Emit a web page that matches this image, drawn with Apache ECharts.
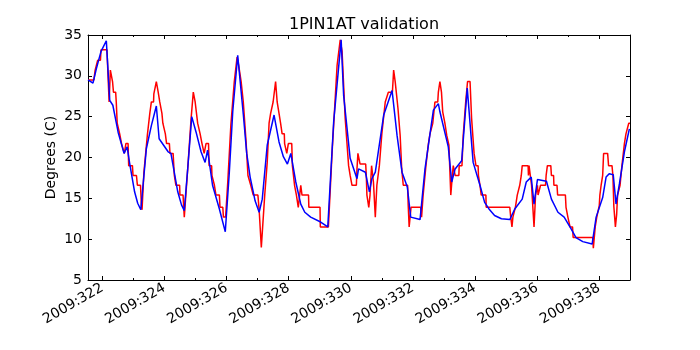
<!DOCTYPE html>
<html>
<head>
<meta charset="utf-8">
<script src="https://cdn.jsdelivr.net/npm/echarts@6/dist/echarts.min.js"></script>
<style>
  html, body { margin: 0; padding: 0; background: #fff; }
</style>
</head>
<body>
<div id="chart" style="width: 700px; height: 350px;"></div>
<script>
// day-of-year range shown on the x axis
const xMin = 321.54
const xMax = 338.99
const xTickDays = [322, 324, 326, 328, 330, 332, 334, 336, 338]
const xMinorDays = [323, 325, 327, 329, 331, 333, 335, 337]
const yTicks = [5, 10, 15, 20, 25, 30, 35]

// measured telemetry (red, quantized)
const telemetry = [
  [321.54,29.5],[321.73,29.5],[321.77,30.7],[321.83,30.7],[321.85,31.9],[321.94,31.9],[321.96,33.2],[322.15,33.2],[322.22,26.8],[322.26,30.7],[322.30,30.7],[322.33,29.3],[322.36,28.0],[322.43,28.0],[322.45,26.8],[322.48,24.2],[322.54,24.2],[322.56,22.9],[322.60,22.9],[322.62,21.7],[322.68,21.7],[322.71,20.5],[322.74,20.5],[322.76,21.7],[322.83,21.7],[322.85,19.0],[322.97,19.0],[322.99,17.8],[323.10,17.8],[323.13,16.6],[323.23,16.6],[323.26,14.1],[323.28,13.6],[323.34,18.2],[323.45,22.7],[323.53,25.4],[323.58,26.8],[323.65,26.8],[323.66,27.8],[323.71,28.0],[323.74,29.3],[323.77,29.3],[323.80,28.0],[323.85,26.8],[323.91,26.8],[323.92,25.4],[323.95,24.2],[324.01,24.2],[324.03,22.9],[324.05,22.9],[324.07,21.7],
  [324.16,21.7],[324.18,20.5],[324.28,20.5],[324.32,17.8],[324.36,17.8],[324.37,16.6],[324.49,16.6],[324.50,15.4],[324.60,15.4],[324.64,12.7],[324.66,12.7],[324.75,18.6],[324.86,24.8],[324.93,28.0],[324.97,28.0],[324.99,26.8],[325.05,26.8],[325.07,24.2],[325.13,24.2],[325.15,22.9],[325.19,22.9],[325.21,21.7],[325.26,21.7],[325.28,20.5],[325.32,20.5],[325.34,21.7],[325.42,21.7],[325.44,19.0],[325.52,19.0],[325.53,17.8],[325.59,17.8],[325.61,16.6],[325.64,16.6],[325.66,15.4],[325.77,15.4],[325.79,13.9],[325.88,13.9],[325.90,12.7],[325.97,12.7],[326.04,17.0],[326.14,24.0],[326.25,29.3],[326.34,32.3],[326.39,31.3],[326.47,29.3],[326.54,26.8],[326.63,21.9],
  [326.69,17.8],[326.78,16.6],[326.86,15.4],[327.01,15.4],[327.05,13.6],[327.12,9.0],[327.16,9.0],[327.23,15.4],[327.31,19.4],[327.37,24.2],[327.42,25.4],[327.48,25.4],[327.50,26.8],[327.56,26.8],[327.58,29.3],[327.61,29.3],[327.63,26.8],[327.67,26.8],[327.69,25.4],[327.73,25.4],[327.74,24.2],[327.78,24.2],[327.79,22.9],[327.86,22.9],[327.87,21.7],[327.92,21.7],[327.94,20.5],[327.97,20.5],[327.99,21.7],[328.10,21.7],[328.12,19.0],[328.19,16.6],[328.25,15.4],[328.30,15.4],[328.31,13.9],[328.37,13.9],[328.39,16.6],[328.41,16.6],[328.43,15.4],[328.64,15.4],[328.65,13.9],[329.01,13.9],[329.02,11.5],[329.28,11.5],
  [329.40,20.7],[329.56,31.3],[329.66,34.4],[329.72,33.0],[329.82,24.8],[329.93,19.0],[329.98,17.8],[330.04,16.6],[330.18,16.6],[330.20,18.6],[330.23,20.5],[330.27,20.5],[330.30,19.2],[330.48,19.2],[330.50,17.8],[330.52,15.4],[330.58,13.9],[330.62,15.4],[330.67,19.0],[330.70,19.0],[330.73,17.0],[330.79,12.7],[330.84,16.6],[330.92,19.0],[331.00,22.9],[331.11,26.8],[331.17,26.8],[331.21,28.0],[331.34,28.0],[331.36,29.3],[331.38,30.7],[331.41,30.7],[331.43,29.3],[331.47,29.3],[331.52,26.0],[331.59,22.7],[331.64,18.6],[331.69,16.6],
  [331.83,16.6],[331.85,14.1],[331.88,11.5],[331.94,13.9],[332.25,13.9],[332.28,12.7],[332.33,15.4],[332.42,19.0],[332.50,21.7],[332.55,22.9],[332.61,22.9],[332.64,24.2],[332.70,24.2],[332.71,26.8],[332.80,26.8],[332.82,28.0],[332.86,28.0],[332.87,29.3],[332.90,29.3],[332.92,28.0],[332.96,25.6],[333.03,24.2],[333.09,22.7],[333.16,21.5],[333.22,15.4],[333.27,17.8],[333.30,19.0],[333.34,19.0],[333.36,17.8],[333.48,17.8],[333.49,19.0],[333.58,19.0],[333.62,22.7],[333.70,26.8],[333.76,29.3],[333.84,29.3],[333.89,24.8],[333.97,20.5],[334.02,20.5],[334.03,19.0],[334.10,19.0],[334.11,17.8],[334.14,17.8],[334.16,16.6],
  [334.20,15.4],[334.35,15.4],[334.36,13.9],[335.12,13.9],[335.15,12.7],[335.19,11.5],[335.22,12.7],[335.30,13.9],[335.36,15.4],[335.44,16.6],[335.49,17.8],[335.52,19.0],[335.71,19.0],[335.72,17.8],[335.74,19.0],[335.79,19.0],[335.82,16.6],[335.85,16.6],[335.90,11.5],[335.95,15.4],[336.01,16.6],[336.03,15.4],[336.09,15.4],[336.11,16.6],[336.27,16.6],[336.29,17.8],[336.33,19.0],[336.44,19.0],[336.46,17.8],[336.53,17.8],[336.54,16.6],[336.64,16.6],[336.66,15.4],
  [336.91,15.4],[336.93,13.9],[336.98,13.9],[336.99,12.7],[337.04,12.7],[337.06,11.5],[337.14,11.5],[337.16,10.2],[337.79,10.2],[337.81,8.9],[337.83,8.9],[337.87,11.5],[337.92,12.7],[338.00,14.1],[338.02,15.4],[338.06,16.6],[338.11,17.8],[338.14,20.5],[338.27,20.5],[338.30,19.0],[338.41,19.0],[338.44,17.8],[338.47,14.0],[338.52,11.5],[338.56,13.0],[338.59,15.4],[338.65,15.4],[338.67,16.6],[338.72,16.6],[338.73,19.0],[338.76,19.0],[338.81,21.7],[338.86,22.9],[338.95,24.2],[338.99,24.2]
]

// model prediction (blue)
const model = [
  [321.54,29.5],[321.70,29.1],[321.81,30.9],[321.96,33.0],[322.13,34.3],[322.24,27.0],[322.34,26.4],[322.51,23.1],[322.70,20.5],[322.80,21.3],[322.88,19.3],[323.04,15.8],[323.14,14.4],[323.24,13.6],[323.42,21.1],[323.58,23.9],[323.74,26.3],[323.83,22.3],[324.12,20.7],[324.21,20.5],[324.43,15.8],[324.55,14.2],[324.64,13.5],[324.75,18.6],[324.88,25.0],[325.02,23.1],[325.18,20.7],[325.31,19.4],[325.39,20.9],[325.55,16.6],[325.77,13.7],[325.96,10.9],[326.09,18.2],[326.20,25.6],[326.36,32.5],[326.54,25.3],[326.65,20.5],[326.76,17.6],[326.92,14.7],[327.05,13.3],[327.15,14.9],[327.31,21.5],[327.53,25.2],[327.69,21.9],[327.83,20.1],[327.96,19.2],[328.07,20.5],[328.23,17.0],[328.39,14.3],[328.52,13.3],[328.71,12.7],[329.03,12.1],[329.26,11.5],[329.45,24.4],[329.69,34.4],[329.77,27.6],[329.98,19.9],[330.20,17.4],[330.25,18.6],[330.47,18.2],[330.60,15.8],[330.68,17.4],[330.79,18.2],[331.06,25.2],[331.33,28.2],[331.49,22.7],[331.65,18.2],[331.82,16.4],[331.93,12.7],[332.23,12.4],[332.39,18.6],[332.66,25.8],[332.82,26.6],[332.87,25.6],[333.14,21.3],[333.25,17.0],[333.36,18.6],[333.57,19.6],[333.75,28.5],[333.94,19.4],[334.16,16.6],[334.31,14.5],[334.45,13.7],[334.63,12.9],[334.85,12.5],[335.12,12.4],[335.28,13.7],[335.52,14.9],[335.65,17.0],[335.81,17.6],[335.90,14.3],[336.01,17.3],[336.30,17.1],[336.46,14.9],[336.67,13.3],[336.87,12.7],[337.09,11.3],[337.25,10.2],[337.47,9.7],[337.77,9.4],[337.90,12.7],[338.11,15.1],[338.22,17.6],[338.32,18.0],[338.45,17.9],[338.54,14.3],[338.65,16.8],[338.81,20.7],[338.97,23.5]
]

const font = 'DejaVu Sans'

const xAxisBase = (position, ticks, len, labels) => ({
  type: 'value',
  position: position,
  min: xMin,
  max: xMax,
  axisLine: { show: labels !== null, lineStyle: { color: '#000', width: 1 } },
  axisTick: { show: true, inside: true, length: len, customValues: ticks, lineStyle: { color: '#000' } },
  axisLabel: labels ? {
    show: true,
    customValues: ticks,
    formatter: v => '2009:' + v,
    rotate: 30,
    margin: 7,
    color: '#000',
    fontSize: 14,
    fontFamily: font
  } : { show: false },
  splitLine: { show: false }
})

const chart = echarts.init(document.getElementById('chart'))

const option = {
  animation: false,
  backgroundColor: '#fff',
  title: {
    text: '1PIN1AT validation',
    left: 359,
    top: 12,
    textAlign: 'center',
    textStyle: { fontFamily: font, fontSize: 16, fontWeight: 'normal', color: '#000' }
  },
  grid: { left: 88, right: 70, top: 35, bottom: 70 },
  xAxis: [
    xAxisBase('bottom', xTickDays, 4, true),
    xAxisBase('bottom', xMinorDays, 2, null),
    xAxisBase('top', xTickDays, 4, false),
    xAxisBase('top', xMinorDays, 2, null)
  ],
  yAxis: [
    {
      type: 'value',
      position: 'left',
      min: yTicks[0],
      max: yTicks[yTicks.length - 1],
      interval: 5,
      name: 'Degrees (C)',
      nameLocation: 'middle',
      nameGap: 30,
      nameMoveOverlap: false,
      nameTextStyle: { fontFamily: font, fontSize: 14, color: '#000' },
      axisLine: { show: true, lineStyle: { color: '#000', width: 1 } },
      axisTick: { show: true, inside: true, length: 4, lineStyle: { color: '#000' } },
      axisLabel: { margin: 6, color: '#000', fontSize: 14, fontFamily: font },
      splitLine: { show: false }
    },
    {
      type: 'value',
      position: 'right',
      min: yTicks[0],
      max: yTicks[yTicks.length - 1],
      interval: 5,
      axisLine: { show: true, lineStyle: { color: '#000', width: 1 } },
      axisTick: { show: true, inside: true, length: 4, lineStyle: { color: '#000' } },
      axisLabel: { show: false },
      splitLine: { show: false }
    }
  ],
  series: [
    {
      name: 'telemetry',
      type: 'line',
      data: telemetry,
      symbol: 'none',
      lineStyle: { color: '#ff0000', width: 1.5 },
      itemStyle: { color: '#ff0000' }
    },
    {
      name: 'model',
      type: 'line',
      data: model,
      symbol: 'none',
      lineStyle: { color: '#0000ff', width: 1.5 },
      itemStyle: { color: '#0000ff' }
    }
  ]
}

chart.setOption(option)
</script>
</body>
</html>
